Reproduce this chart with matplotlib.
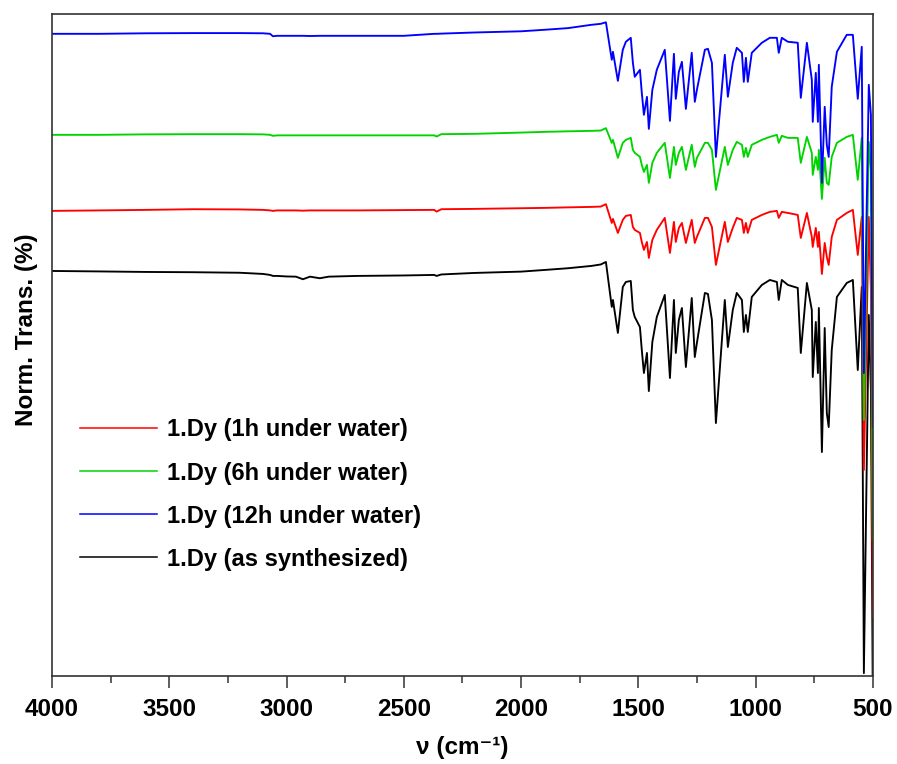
import matplotlib
matplotlib.use("Agg")
import matplotlib.pyplot as plt
from matplotlib.ticker import MultipleLocator

# Wavenumbers (cm^-1), shared by all four spectra
wavenumber = [4000, 3800, 3600, 3400, 3200, 3100, 3070, 3058, 3040, 3000, 2960, 2930, 2900,
              2858, 2820, 2700, 2500, 2370, 2360, 2340, 2200, 2000, 1900, 1800, 1700, 1660,
              1638, 1613, 1608, 1587, 1566, 1553, 1532, 1523, 1515, 1493, 1485, 1476, 1463,
              1455, 1440, 1421, 1387, 1365, 1348, 1340, 1327, 1314, 1297, 1272, 1259, 1250,
              1216, 1203, 1186, 1169, 1131, 1118, 1097, 1080, 1058, 1050, 1041, 1033, 1016,
              973, 939, 909, 901, 888, 862, 820, 807, 781, 760, 756, 743, 734, 730, 717,
              705, 696, 688, 675, 653, 611, 585, 564, 547, 538, 517, 508, 500]

# Normalised transmittance (stacked, arbitrary offsets)
trans_12h = [96.97, 96.97, 97.05, 97.08, 97.08, 97.05, 96.97, 96.60, 96.67, 96.67, 96.67, 96.67, 96.64,
             96.67, 96.67, 96.67, 96.67, 96.97, 96.97, 97.00, 97.17, 97.35, 97.58, 97.83, 98.33, 98.48,
             98.71, 93.05, 94.26, 89.87, 94.56, 95.77, 96.37, 92.59, 90.48, 91.54, 88.06, 84.74, 87.46,
             82.62, 88.51, 91.54, 94.56, 83.83, 93.95, 87.16, 91.23, 92.74, 85.64, 94.10, 86.70, 88.51,
             94.56, 94.71, 92.59, 78.39, 93.80, 87.46, 92.59, 94.86, 94.10, 89.72, 93.35, 89.72, 94.10,
             95.62, 96.37, 96.37, 94.10, 96.37, 95.77, 95.62, 87.31, 95.62, 90.03, 83.68, 91.08, 83.68, 92.29, 74.47,
             85.95, 80.21, 78.39, 88.97, 94.26, 96.82, 96.82, 87.16, 95.01, 45.76, 89.27, 84.74, 37.61]

trans_6h = [81.72, 81.72, 81.79, 81.82, 81.82, 81.79, 81.72, 81.57, 81.64, 81.64, 81.64, 81.64, 81.64,
            81.64, 81.64, 81.64, 81.64, 81.64, 81.46, 81.82, 81.87, 82.06, 82.17, 82.25, 82.32, 82.37,
            82.73, 80.51, 80.96, 78.24, 80.51, 80.96, 81.26, 79.45, 79.00, 78.39, 77.18, 76.13, 77.18,
            74.47, 77.49, 79.00, 80.51, 75.22, 79.90, 77.18, 79.00, 79.90, 76.43, 80.21, 76.88, 78.24,
            80.51, 80.51, 79.45, 73.41, 79.90, 77.18, 79.45, 80.66, 80.21, 78.39, 79.75, 78.39, 80.21,
            80.96, 81.41, 81.72, 80.51, 81.57, 81.26, 81.26, 77.49, 81.41, 79.00, 75.67, 78.39, 76.43, 79.45, 72.05,
            78.24, 74.47, 74.17, 78.39, 80.51, 81.41, 81.72, 74.92, 81.26, 38.67, 80.66, 76.43, 20.54]

trans_1h = [70.24, 70.31, 70.39, 70.49, 70.46, 70.39, 70.31, 70.24, 70.31, 70.31, 70.31, 70.27, 70.31,
            70.31, 70.31, 70.31, 70.36, 70.39, 70.13, 70.49, 70.54, 70.64, 70.69, 70.77, 70.84, 70.89,
            71.25, 68.42, 69.03, 66.91, 68.88, 69.48, 69.63, 67.82, 67.37, 66.91, 65.55, 64.35, 65.55,
            63.14, 65.86, 67.37, 69.18, 63.89, 68.58, 65.55, 67.67, 68.42, 65.40, 68.88, 65.40, 66.31,
            69.18, 69.18, 67.82, 62.08, 68.58, 65.55, 67.67, 69.18, 68.88, 66.91, 68.42, 66.91, 68.88,
            69.63, 70.09, 70.24, 69.18, 70.09, 69.93, 69.63, 66.16, 69.93, 66.31, 64.80, 67.67, 64.80, 67.06, 60.72,
            65.40, 63.29, 62.08, 66.31, 68.88, 69.93, 70.39, 63.59, 69.33, 31.12, 69.33, 58.30, 8.91]

trans_as = [61.17, 61.10, 61.02, 60.98, 60.90, 60.72, 60.57, 60.42, 60.42, 60.34, 60.31, 59.92, 60.31,
            60.07, 60.31, 60.42, 60.49, 60.57, 60.42, 60.64, 60.87, 61.07, 61.32, 61.58, 61.93, 62.15,
            62.53, 55.74, 56.79, 51.81, 58.76, 59.51, 59.66, 55.28, 54.22, 52.71, 49.24, 45.76, 48.79,
            43.04, 50.45, 54.22, 57.55, 45.01, 56.79, 48.79, 53.77, 55.58, 46.67, 57.09, 48.18, 50.30,
            57.85, 57.70, 53.77, 38.21, 56.79, 49.69, 55.28, 57.85, 56.79, 51.96, 54.53, 51.96, 57.25,
            59.06, 59.81, 59.51, 56.79, 59.81, 59.06, 58.61, 48.79, 59.36, 55.28, 45.16, 53.47, 45.76, 55.58, 33.83,
            52.56, 39.72, 37.61, 49.24, 57.25, 59.36, 59.81, 46.22, 58.76, 0.45, 54.53, 43.20, -3.5]

labels = ["1.Dy (1h under water)", "1.Dy (6h under water)",
          "1.Dy (12h under water)", "1.Dy (as synthesized)"]
colors = ["#ff0000", "#00d400", "#0000ff", "#000000"]

plt.rcParams['font.family'] = ['Liberation Sans', 'DejaVu Sans']
plt.rcParams['font.weight'] = 'bold'

fig = plt.figure(figsize=(8.97, 7.64), dpi=100)
ax = fig.add_axes([0.058, 0.115, 0.915, 0.867])

lw = 1.35
l_as, = ax.plot(wavenumber, trans_as, color=colors[3], lw=lw)
l_1h, = ax.plot(wavenumber, trans_1h, color=colors[0], lw=lw)
l_6h, = ax.plot(wavenumber, trans_6h, color=colors[1], lw=lw)
l_12h, = ax.plot(wavenumber, trans_12h, color=colors[2], lw=lw)

ax.set_xlim(4000, 500)
ax.set_ylim(0, 100)
ax.xaxis.set_major_locator(MultipleLocator(500))
ax.xaxis.set_minor_locator(MultipleLocator(250))
ax.tick_params(axis='x', which='major', direction='out', length=8.5, width=1.1,
               labelsize=17.5, pad=7, color='#333333')
ax.tick_params(axis='x', which='minor', direction='out', length=5, width=1.1, color='#333333')
ax.set_yticks([])
for lab in ax.get_xticklabels():
    lab.set_fontweight('bold')
for sp in ax.spines.values():
    sp.set_color('#333333')
    sp.set_linewidth(1.2)

ax.set_xlabel("\u03bd (cm\u207b\u00b9)", fontsize=17.5, fontweight='bold', labelpad=11)
ax.set_ylabel("Norm. Trans. (%)", fontsize=17.5, fontweight='bold')
ax.yaxis.set_label_coords(-0.017, 0.523)

leg = ax.legend([l_1h, l_6h, l_12h, l_as], labels, loc='upper left',
                bbox_to_anchor=(0.034, 0.389), frameon=False, fontsize=17,
                handlelength=3.25, handletextpad=0.45, labelspacing=0.85,
                borderpad=0, borderaxespad=0)
for t in leg.get_texts():
    t.set_fontweight('bold')
for h in leg.legend_handles:
    h.set_linewidth(1.1)

fig.savefig("out.png", dpi=100)
